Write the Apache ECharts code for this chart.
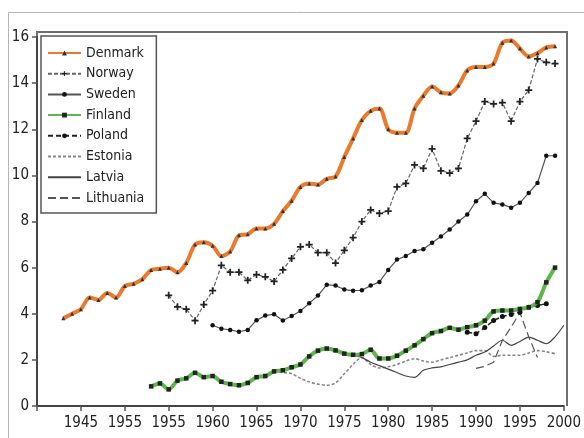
<!DOCTYPE html>
<html><head><meta charset="utf-8">
<script src="https://cdn.jsdelivr.net/npm/echarts@6/dist/echarts.min.js"></script>
<style>html,body{margin:0;padding:0;background:#fff}#c{width:584px;height:438px}</style>
</head><body><div id="c"></div>
<script>
const FONT = "'Liberation Sans Narrow','Arial Narrow','DejaVu Sans Condensed',sans-serif";

const xTicks = [1940,1945,1950,1955,1960,1965,1970,1975,1980,1985,1990,1995,2000];
const xTickLabels = ['', '1945','1955','1955','1960','1965','1970','1975','1980','1985','1990','1995','2000'];
const yTicks = [0,2,4,6,8,10,12,14,16];

const denmarkStart = 1943;
const denmark = [3.8,4.0,4.2,4.7,4.6,4.9,4.7,5.2,5.3,5.5,5.9,5.95,6.0,5.8,6.2,7.0,7.1,6.95,6.5,6.7,7.4,7.45,7.7,7.7,7.9,8.45,8.9,9.5,9.65,9.6,9.85,9.95,10.8,11.6,12.4,12.8,12.9,12.0,11.85,11.85,12.9,13.45,13.85,13.6,13.55,13.9,14.55,14.7,14.7,14.85,15.75,15.85,15.5,15.15,15.3,15.55,15.6];
const norwayStart = 1955;
const norway = [4.8,4.3,4.2,3.7,4.4,5.0,6.1,5.8,5.8,5.45,5.7,5.6,5.4,5.9,6.4,6.9,7.0,6.65,6.65,6.2,6.75,7.3,8.0,8.5,8.35,8.45,9.5,9.65,10.45,10.3,11.15,10.2,10.1,10.3,11.6,12.35,13.2,13.1,13.15,12.35,13.2,13.7,15.05,14.9,14.85];
const swedenStart = 1960;
const sweden = [3.5,3.35,3.3,3.22,3.3,3.72,3.92,3.98,3.71,3.9,4.12,4.45,4.79,5.26,5.22,5.05,5.0,5.02,5.22,5.38,5.9,6.35,6.5,6.72,6.8,7.08,7.35,7.65,8.0,8.3,8.88,9.2,8.81,8.74,8.6,8.81,9.24,9.67,10.85,10.85];
const finlandStart = 1953;
const finland = [0.85,0.98,0.72,1.1,1.2,1.44,1.25,1.3,1.05,0.95,0.9,1.0,1.25,1.3,1.5,1.55,1.68,1.8,2.15,2.4,2.49,2.41,2.27,2.22,2.25,2.44,2.06,2.06,2.18,2.4,2.63,2.9,3.16,3.25,3.39,3.31,3.42,3.5,3.7,4.1,4.14,4.14,4.21,4.28,4.5,5.36,6.0];
const polandStart = 1989;
const poland = [3.2,3.13,3.4,3.71,3.88,3.97,4.07,4.28,4.36,4.43];
const estoniaStart = 1967;
const estonia = [1.5,1.45,1.4,1.2,1.05,0.95,0.9,1.0,1.4,1.8,2.1,1.8,1.65,1.7,1.8,1.95,2.05,1.95,1.9,2.0,2.1,2.2,2.3,2.4,2.4,2.15,2.2,2.2,2.2,2.3,2.4,2.35,2.27];
const latviaStart = 1976;
const latvia = [2.2,2.1,1.9,1.75,1.6,1.45,1.3,1.24,1.55,1.65,1.7,1.8,1.9,2.0,2.2,2.34,2.6,2.85,2.63,2.8,2.99,2.85,2.7,3.0,3.5];
const lithuaniaStart = 1990;
const lithuania = [1.63,1.72,1.9,2.85,3.42,4.05,3.0,2.1];

function pairs(start, vals){ return vals.map((v,i)=>[start+i, v]); }
const plus = 'path://M-1,-4H1V-1H4V1H1V4H-1V1H-4V-1H-1Z';
const noMark = {color:'rgba(0,0,0,0)', borderWidth:0, opacity:0};

const chart = echarts.init(document.getElementById('c'), null, {renderer:'canvas'});
chart.setOption({
  backgroundColor:'#ffffff',
  animation:false,
  textStyle:{fontFamily:FONT},
  grid:{left:37, right:19, top:37, bottom:32},
  graphic:[
    {type:'rect', shape:{x:8.5,y:12.5,width:700,height:600}, style:{fill:null, stroke:'#b5b5b5', lineWidth:1}, silent:true, z:-10},
    {type:'polyline', shape:{points:[[37,406],[37,32],[567,32],[567,406]]}, style:{fill:null, stroke:'#6f6f6f', lineWidth:2}, silent:true, z:-5}
  ],
  legend:{
    orient:'vertical', left:41, top:36, itemWidth:33, itemHeight:6, itemGap:6.7,
    padding:[10,12,8,6],
    borderColor:'#555', borderWidth:1.5, backgroundColor:'#fff',
    textStyle:{fontFamily:FONT, fontSize:14, color:'#222'},
    data:['Denmark','Norway','Sweden','Finland','Poland',
      {name:'Estonia', itemStyle:noMark},
      {name:'Latvia', itemStyle:noMark},
      {name:'Lithuania', itemStyle:noMark}]
  },
  xAxis:{
    type:'value', min:1940, max:2000, interval:5,
    axisLine:{lineStyle:{color:'#444', width:2}},
    axisTick:{show:true, length:5, lineStyle:{color:'#555', width:1.5}},
    axisLabel:{fontFamily:FONT, fontSize:15, color:'#222', margin:10,
      formatter:v=>{const i=xTicks.indexOf(v); return i>=0?xTickLabels[i]:'';}},
    splitLine:{show:false}
  },
  yAxis:{
    type:'value', min:0, max:16, interval:2,
    axisLine:{show:true, lineStyle:{color:'#444', width:2}},
    axisTick:{show:true, length:5, lineStyle:{color:'#555', width:1.5}},
    axisLabel:{fontFamily:FONT, fontSize:15, color:'#222', margin:8,
      formatter:v=>yTicks.includes(v)?String(v):''},
    splitLine:{show:false}
  },
  series:[
    {name:'Denmark', type:'line', data:pairs(denmarkStart,denmark), smooth:0.3,
     lineStyle:{color:'#ec7a2c', width:4}, itemStyle:{color:'#333'}, color:'#ec7a2c',
     symbol:'triangle', symbolSize:4, z:6},
    {name:'Norway', type:'line', data:pairs(norwayStart,norway),
     lineStyle:{color:'#666', width:1.2, type:[4,2]}, itemStyle:{color:'#222'}, color:'#666',
     symbol:plus, symbolSize:7, z:4},
    {name:'Sweden', type:'line', data:pairs(swedenStart,sweden),
     lineStyle:{color:'#555', width:1.2}, itemStyle:{color:'#111'}, color:'#555',
     symbol:'circle', symbolSize:4.5, z:4},
    {name:'Finland', type:'line', data:pairs(finlandStart,finland), smooth:0.3,
     lineStyle:{color:'#5cb84a', width:4}, itemStyle:{color:'#222'}, color:'#5cb84a',
     symbol:'rect', symbolSize:4.5, z:5},
    {name:'Poland', type:'line', data:pairs(polandStart,poland),
     lineStyle:{color:'#222', width:1.5, type:[5,3]}, itemStyle:{color:'#111'}, color:'#222',
     symbol:'circle', symbolSize:5, z:4},
    {name:'Estonia', type:'line', data:pairs(estoniaStart,estonia), smooth:0.3,
     lineStyle:{color:'#888', width:1.6, type:[3,2]}, color:'#999', symbol:'none', z:3},
    {name:'Latvia', type:'line', data:pairs(latviaStart,latvia), smooth:0.3,
     lineStyle:{color:'#444', width:1.2}, color:'#555', symbol:'none', z:3},
    {name:'Lithuania', type:'line', data:pairs(lithuaniaStart,lithuania),
     lineStyle:{color:'#555', width:1.2, type:[8,4]}, color:'#555', symbol:'none', z:3}
  ]
});
</script></body></html>
